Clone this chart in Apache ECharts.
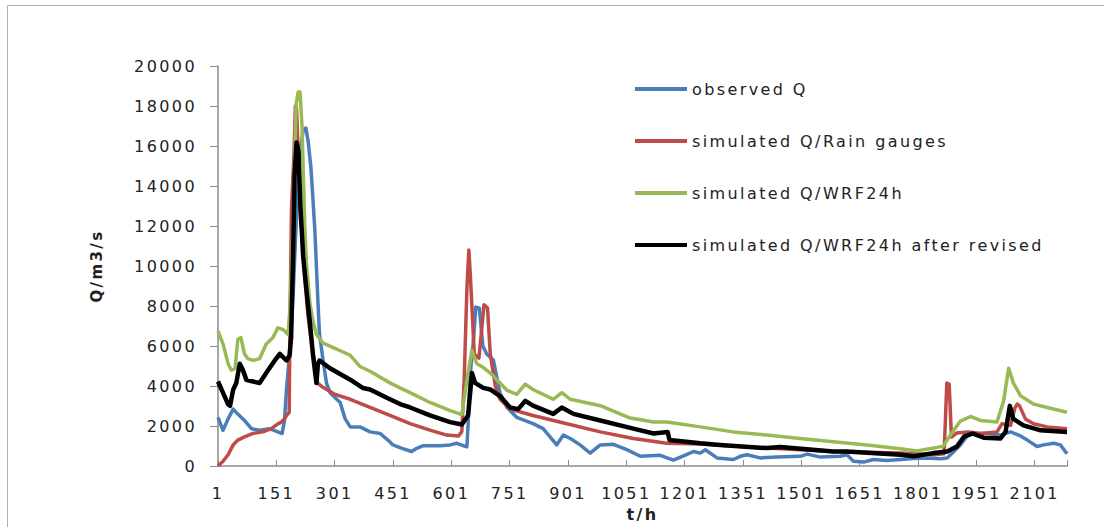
<!DOCTYPE html>
<html>
<head>
<meta charset="utf-8">
<script src="https://cdn.jsdelivr.net/npm/echarts@6/dist/echarts.min.js"></script>
<style>
  html, body { margin: 0; padding: 0; background: #ffffff; }
  #chart { width: 1104px; height: 527px; }
  #chart text { letter-spacing: 2.4px; }
</style>
</head>
<body>
<div id="chart"></div>
<script>
// ---- data: [hour t, discharge Q (m3/s)] ----
const seriesNames = [
  'observed Q',
  'simulated Q/Rain gauges',
  'simulated Q/WRF24h',
  'simulated Q/WRF24h after revised'
];

const observedQ = [
  [1,2440],[14,1790],[27,2360],[40,2850],[52,2600],[69,2280],[87,1870],[108,1790],[134,1870],[155,1710],
  [166,1630],[172,2300],[177,3800],[185,5600],[194,8500],[202,12100],[211,15400],[220,16800],[227,16900],
  [233,16200],[240,14900],[245,13400],[250,11800],[254,10000],[258,8200],[262,6600],[271,5300],[280,4150],
  [289,3670],[315,3180],[328,2360],[341,1960],[366,1960],[392,1710],[418,1630],[438,1300],[451,1060],
  [474,890],[499,730],[512,890],[529,1020],[572,1020],[598,1060],[615,1140],[632,1020],[641,970],[644,2050],
  [649,4500],[657,6100],[664,7950],[673,7900],[682,6000],[692,5600],[709,5300],[726,3670],[744,2930],
  [769,2440],[811,2120],[837,1870],[872,1060],[889,1550],[907,1380],[932,1060],[958,650],[984,1060],
  [1018,1090],[1052,820],[1087,490],[1138,540],[1172,300],[1207,590],[1224,730],[1241,650],[1254,820],
  [1284,410],[1326,330],[1344,490],[1361,570],[1395,410],[1438,450],[1498,490],[1516,600],[1550,450],
  [1601,490],[1618,570],[1635,240],[1661,200],[1686,330],[1721,280],[1756,330],[1790,380],[1824,410],
  [1859,370],[1876,410],[1893,730],[1910,1060],[1927,1500],[1944,1630],[1979,1630],[2013,1550],[2039,1710],
  [2060,1550],[2082,1300],[2107,980],[2124,1060],[2150,1140],[2167,1060],[2184,620]
];

const rainGaugeQ = [
  [1,0],[14,240],[27,570],[40,1060],[52,1300],[69,1460],[91,1630],[116,1710],[138,1870],[155,2110],
  [164,2200],[172,2360],[177,2520],[184,2680],[186,7200],[190,12900],[196,15400],[200,18000],[203,17900],
  [211,13700],[220,10500],[232,7560],[245,5610],[257,4150],[270,3950],[300,3600],[341,3340],[392,2930],
  [443,2540],[495,2120],[546,1800],[589,1550],[619,1500],[628,1720],[634,4320],[641,8880],[646,10800],
  [650,9500],[660,5600],[672,5400],[685,8070],[694,7900],[701,5620],[714,4000],[726,3340],[752,2850],
  [811,2530],[898,2120],[984,1710],[1069,1380],[1155,1140],[1241,1100],[1412,900],[1583,730],[1756,650],
  [1841,570],[1868,620],[1875,4150],[1881,4100],[1887,1450],[1900,1650],[1930,1710],[1961,1630],
  [2004,1710],[2017,2120],[2039,2040],[2050,2900],[2056,3100],[2062,3010],[2077,2360],[2098,2120],
  [2133,1960],[2184,1870]
];

const wrf24hQ = [
  [1,6750],[14,6100],[27,5120],[35,4800],[45,4880],[52,6340],[60,6420],[69,5610],[78,5370],[91,5280],
  [108,5370],[125,6100],[142,6420],[155,6910],[168,6830],[181,6590],[186,7900],[194,12100],[202,18100],
  [207,18700],[212,18700],[217,17000],[224,12100],[228,10200],[237,8200],[245,7240],[254,6590],[271,6150],
  [289,6000],[341,5540],[366,4980],[392,4740],[443,4160],[469,3910],[495,3670],[546,3180],[598,2770],
  [628,2570],[641,4320],[654,5790],[666,5130],[680,4970],[701,4650],[718,4320],[744,3790],[769,3590],
  [791,4100],[811,3830],[863,3340],[885,3670],[907,3340],[984,3020],[1061,2400],[1121,2200],[1155,2200],
  [1241,1960],[1326,1710],[1412,1550],[1498,1380],[1583,1220],[1670,1060],[1756,870],[1798,760],[1841,900],
  [1866,1000],[1884,1550],[1910,2250],[1936,2480],[1961,2280],[2004,2200],[2021,3260],[2034,4890],
  [2046,4160],[2065,3500],[2098,3100],[2133,2930],[2184,2690]
];

const revisedQ = [
  [1,4230],[14,3660],[27,3090],[32,3010],[40,3820],[48,4150],[57,5120],[65,4800],[74,4310],[91,4230],
  [108,4150],[130,4800],[147,5280],[160,5610],[177,5280],[185,5530],[189,6420],[194,10490],[198,14550],
  [203,16180],[208,15690],[213,12930],[220,10490],[228,8860],[237,7240],[245,5610],[254,4150],[258,5120],
  [262,5280],[289,4890],[341,4320],[374,3900],[392,3830],[443,3340],[469,3100],[495,2930],[546,2540],
  [598,2200],[628,2080],[644,2530],[654,4650],[662,4160],[683,3910],[701,3830],[726,3500],[752,2930],
  [773,2850],[791,3260],[811,3020],[863,2610],[885,2930],[915,2610],[984,2280],[1069,1870],[1121,1630],
  [1157,1710],[1162,1300],[1241,1140],[1292,1060],[1412,900],[1447,950],[1583,730],[1618,730],[1756,570],
  [1790,490],[1841,650],[1876,730],[1901,980],[1919,1470],[1941,1630],[1970,1420],[2013,1380],[2026,1710],
  [2037,3010],[2046,2360],[2072,2040],[2116,1790],[2184,1710]
];

// axis settings
const xTickStep = 150;      // labels 1, 151, 301, ...
const lastHour = 2184;
const yMax = 20000;
const yTickStep = 2000;

const seriesData = [observedQ, rainGaugeQ, wrf24hQ, revisedQ];
const seriesColors = ['#4a7ebb', '#be4b48', '#98b954', '#000000'];
const seriesWidths = [3.5, 3.5, 3.5, 4.5];

const font = 'DejaVu Sans';
const textColor = '#222222';

const chart = echarts.init(document.getElementById('chart'), null, { renderer: 'svg' });

chart.setOption({
  animation: false,
  backgroundColor: '#ffffff',
  graphic: [{
    type: 'rect',
    shape: { x: 7.5, y: 5.5, width: 1200, height: 700 },
    style: { fill: 'none', stroke: '#b0b0b0', lineWidth: 1 },
    silent: true
  }],
  grid: { left: 218, right: 37, top: 66, bottom: 52, containLabel: false },
  legend: {
    orient: 'vertical',
    left: 630,
    top: 76,
    itemWidth: 52,
    itemHeight: 4,
    itemGap: 36,
    icon: 'rect',
    data: seriesNames,
    textStyle: { fontFamily: font, fontSize: 16, color: textColor }
  },
  xAxis: {
    type: 'value',
    min: 0,
    max: lastHour - 1,
    interval: xTickStep,
    name: 't/h',
    nameLocation: 'middle',
    nameGap: 23,
    nameTextStyle: { fontFamily: font, fontSize: 16, fontWeight: 'bold', color: textColor },
    axisLine: { show: true, lineStyle: { color: '#8a8a8a', width: 1.5 } },
    axisTick: { show: true, inside: true, length: 6, lineStyle: { color: '#8a8a8a', width: 1 } },
    axisLabel: {
      margin: 19,
      fontFamily: font, fontSize: 16, color: textColor,
      formatter: v => (v % xTickStep === 0 ? String(v + 1) : '')
    },
    splitLine: { show: false }
  },
  yAxis: {
    type: 'value',
    min: 0,
    max: yMax,
    interval: yTickStep,
    name: 'Q/m3/s',
    nameLocation: 'middle',
    nameRotate: 90,
    nameGap: 114,
    nameTextStyle: { fontFamily: font, fontSize: 15, fontWeight: 'bold', color: textColor },
    axisLine: { show: true, lineStyle: { color: '#8a8a8a', width: 1.5 } },
    axisTick: { show: true, inside: false, length: 8, lineStyle: { color: '#8a8a8a', width: 1 } },
    axisLabel: {
      margin: 21, fontFamily: font, fontSize: 16, color: textColor,
      formatter: v => String(v)
    },
    splitLine: { show: false }
  },
  series: seriesNames.map((name, i) => ({
    name: name,
    type: 'line',
    data: seriesData[i].map(p => [p[0] - 1, p[1]]),
    showSymbol: false,
    symbol: 'none',
    color: seriesColors[i],
    lineStyle: { color: seriesColors[i], width: seriesWidths[i], join: 'round' },
    z: 2 + i
  }))
});
</script>
</body>
</html>
